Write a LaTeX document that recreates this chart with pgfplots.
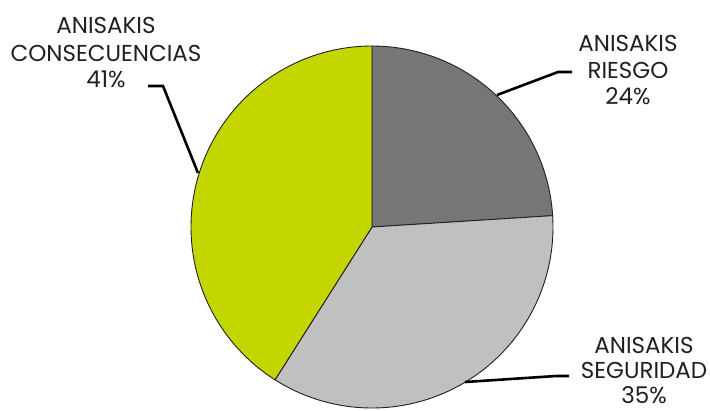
\documentclass[border=0pt]{standalone}
\usepackage{pgfplots}
\pgfplotsset{compat=1.18}
\usepackage{pgfplotstable}
\usepackage{fontspec}
\setmainfont{Poppins}
\definecolor{riesgo}{HTML}{767676}
\definecolor{seguridad}{HTML}{C0C0C0}
\definecolor{consec}{HTML}{C4D600}
\definecolor{txt}{HTML}{231F20}

\pgfplotstableread{
label pct
Riesgo 24
Seguridad 35
Consecuencias 41
}\piedata
\pgfplotstablegetelem{0}{pct}\of\piedata \let\pA\pgfplotsretval%
\pgfplotstablegetelem{1}{pct}\of\piedata \let\pB\pgfplotsretval%
\pgfplotstablegetelem{2}{pct}\of\piedata \let\pC\pgfplotsretval%
\pgfmathsetmacro\aZero{90}%
\pgfmathsetmacro\aOne{90-3.6*\pA}%
\pgfmathsetmacro\aTwo{\aOne-3.6*\pB}%
\pgfmathsetmacro\aThree{\aTwo-3.6*\pC}%
\def\cx{372}\def\cy{227}\def\rr{181}%

\begin{document}
\begin{tikzpicture}
\begin{axis}[
  x=1bp, y=1bp,
  xmin=0, xmax=710, ymin=0, ymax=410,
  y dir=reverse,
  hide axis, clip=false,
  scale only axis,
]
\coordinate (bl) at (axis cs:0,410);
\coordinate (tr) at (axis cs:710,0);
\addplot[fill=riesgo, draw=txt, line width=0.9bp, domain=\aOne:\aZero, samples=90, variable=\t]
  ({\cx+\rr*cos(\t)},{\cy-\rr*sin(\t)}) -- (axis cs:\cx,\cy) -- cycle;
\addplot[fill=seguridad, draw=txt, line width=0.9bp, domain=\aTwo:\aOne, samples=120, variable=\t]
  ({\cx+\rr*cos(\t)},{\cy-\rr*sin(\t)}) -- (axis cs:\cx,\cy) -- cycle;
\addplot[fill=consec, draw=txt, line width=0.9bp, domain=\aThree:\aTwo, samples=140, variable=\t]
  ({\cx+\rr*cos(\t)},{\cy-\rr*sin(\t)}) -- (axis cs:\cx,\cy) -- cycle;
% leader lines
\addplot[black, line width=2.6bp] coordinates {(497,95) (558,72) (572,72)};
\addplot[black, line width=2.6bp] coordinates {(465,382) (556,376) (569,376)};
\addplot[black, line width=2.6bp] coordinates {(198,173) (163,86) (148,86)};
% labels
\begin{scope}[every node/.style={font=\fontsize{23bp}{28bp}\selectfont, text=txt, inner sep=0pt, anchor=base}]
\node at (axis cs:628,51) {ANISAKIS};
\node at (axis cs:628,78) {RIESGO};
\node at (axis cs:628,104) {24\%};
\node at (axis cs:644,353) {ANISAKIS};
\node at (axis cs:644,378) {SEGURIDAD};
\node at (axis cs:644,403) {35\%};
\node at (axis cs:106,33) {ANISAKIS};
\node at (axis cs:106,61) {CONSECUENCIAS};
\node at (axis cs:106,87) {41\%};
\end{scope}
\end{axis}
\pgfresetboundingbox
\path (bl) rectangle (tr);
\end{tikzpicture}
\end{document}
